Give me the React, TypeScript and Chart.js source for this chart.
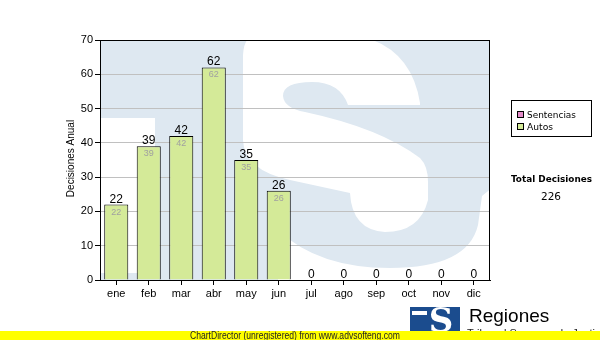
import React, { useEffect, useRef } from 'react';
import { Chart, registerables } from 'chart.js';
Chart.register(...registerables);

const months = ['ene', 'feb', 'mar', 'abr', 'may', 'jun', 'jul', 'ago', 'sep', 'oct', 'nov', 'dic'];
const sentencias = [0, 0, 0, 0, 0, 0, 0, 0, 0, 0, 0, 0];
const autos = [22, 39, 42, 62, 35, 26, 0, 0, 0, 0, 0, 0];
const yMin = 0;
const yMax = 70;
const yStep = 10;
const seriesNames = ['Sentencias', 'Autos'];
const seriesColors = ['#e48bc9', '#d4ea98'];
const yTitle = 'Decisiones Anual';
const totalTitle = 'Total Decisiones';
const footerText = 'ChartDirector (unregistered) from www.advsofteng.com';
const logoText = 'Regiones';
const logoSub = 'Tribunal Supremo de Justicia';

const SANS = '"Liberation Sans", Arial, sans-serif';
const TAHOMA = '"DejaVu Sans", Verdana, sans-serif';

function fitText(ctx: CanvasRenderingContext2D, text: string, x: number, y: number, width: number, align: 'left' | 'center') {
  const w = ctx.measureText(text).width;
  const s = width / w;
  ctx.save();
  ctx.translate(x, y);
  ctx.scale(s, 1);
  ctx.textAlign = align;
  ctx.fillText(text, 0, 0);
  ctx.restore();
}

const watermark = {
  id: 'watermark',
  beforeDraw(chart: any) {
    const { ctx, chartArea: ca } = chart;
    ctx.save();
    ctx.beginPath();
    ctx.rect(ca.left, ca.top, ca.right - ca.left, ca.bottom - ca.top);
    ctx.clip();
    ctx.fillStyle = '#dee8f1';
    ctx.fillRect(ca.left, ca.top, ca.right - ca.left, ca.bottom - ca.top);
    ctx.translate(ca.left - 100, ca.top - 40);
    ctx.fillStyle = '#ffffff';
    // left white block
    ctx.fillRect(100, 118, 55, 155);
    // upper S
    ctx.beginPath();
    ctx.moveTo(250, 38);
    ctx.lineTo(367, 38);
    ctx.quadraticCurveTo(412, 52, 420, 103);
    ctx.lineTo(420, 105);
    ctx.lineTo(348, 105);
    ctx.quadraticCurveTo(340, 82, 312, 82);
    ctx.quadraticCurveTo(283, 82, 283, 96);
    ctx.quadraticCurveTo(284, 108, 305, 112);
    ctx.quadraticCurveTo(380, 128, 420, 158);
    ctx.quadraticCurveTo(428, 166, 428, 182);
    ctx.lineTo(428, 200);
    ctx.quadraticCurveTo(420, 232, 385, 232);
    ctx.quadraticCurveTo(352, 230, 350, 193);
    ctx.lineTo(290, 180);
    ctx.quadraticCurveTo(244, 170, 243, 140);
    ctx.lineTo(243, 55);
    ctx.quadraticCurveTo(244, 40, 250, 38);
    ctx.closePath();
    ctx.fill();
    // lower white arc
    ctx.beginPath();
    ctx.moveTo(278, 230);
    ctx.quadraticCurveTo(318, 268, 390, 268);
    ctx.quadraticCurveTo(468, 268, 478, 225);
    ctx.lineTo(482, 196);
    ctx.lineTo(492, 188);
    ctx.lineTo(492, 282);
    ctx.lineTo(278, 282);
    ctx.closePath();
    ctx.fill();
    ctx.restore();
  },
};

const overlay = {
  id: 'overlay',
  afterDatasetsDraw(chart: any) {
    const { ctx } = chart;
    const meta = chart.getDatasetMeta(1);
    const yScale = chart.scales.y;
    ctx.save();
    ctx.textAlign = 'center';
    ctx.textBaseline = 'alphabetic';
    meta.data.forEach((bar: any, i: number) => {
      const total = sentencias[i] + autos[i];
      const yTop = yScale.getPixelForValue(total);
      ctx.fillStyle = '#000';
      ctx.font = `12px ${SANS}`;
      ctx.fillText(String(total), bar.x, yTop - 2);
      if (autos[i] > 0) {
        ctx.fillStyle = '#a0a0a0';
        ctx.font = `9px ${SANS}`;
        ctx.fillText(String(autos[i]), bar.x, yTop + 10);
      }
    });
    ctx.restore();
  },
  afterDraw(chart: any) {
    const { ctx, chartArea: ca } = chart;
    ctx.save();
    // plot border
    ctx.strokeStyle = '#000';
    ctx.lineWidth = 1;
    ctx.strokeRect(Math.round(ca.left) + 0.5, Math.round(ca.top) + 0.5, Math.round(ca.right - ca.left) - 1, Math.round(ca.bottom - ca.top));

    // y title
    ctx.save();
    ctx.translate(71, 158.5);
    ctx.rotate(-Math.PI / 2);
    ctx.fillStyle = '#000';
    ctx.font = `10px ${SANS}`;
    ctx.textAlign = 'center';
    ctx.textBaseline = 'middle';
    ctx.fillText(yTitle, 0, 0);
    ctx.restore();

    // legend
    ctx.strokeStyle = '#000';
    ctx.strokeRect(511.5, 100.5, 80, 36);
    ctx.font = `9.5px ${TAHOMA}`;
    ctx.textBaseline = 'alphabetic';
    const legendWidths = [49, 26];
    seriesNames.forEach((name, i) => {
      const sy = 111 + i * 11.5;
      ctx.fillStyle = seriesColors[i];
      ctx.fillRect(Math.round(517), Math.round(sy), 7, 7);
      ctx.strokeStyle = '#000';
      ctx.strokeRect(Math.round(517) + 0.5, Math.round(sy) + 0.5, 6, 6);
      ctx.fillStyle = '#000';
      fitText(ctx, name, 527, sy + 7, legendWidths[i], 'left');
    });

    // totals
    const total = autos.reduce((a, b) => a + b, 0) + sentencias.reduce((a, b) => a + b, 0);
    ctx.fillStyle = '#000';
    ctx.font = `bold 9.5px ${TAHOMA}`;
    fitText(ctx, totalTitle, 551.5, 181.5, 81, 'center');
    ctx.font = `10.5px ${TAHOMA}`;
    ctx.textAlign = 'center';
    ctx.fillText(String(total), 551, 200);

    // logo
    ctx.fillStyle = '#1b4c8e';
    ctx.fillRect(410, 307, 50, 25);
    ctx.save();
    ctx.beginPath();
    ctx.rect(410, 307, 50, 25);
    ctx.clip();
    ctx.fillStyle = '#fff';
    ctx.fillRect(412, 311, 15, 4);
    ctx.font = `bold 34px "DejaVu Serif", serif`;
    ctx.textAlign = 'center';
    ctx.fillText('S', 441, 332);
    ctx.restore();
    ctx.fillStyle = '#000';
    ctx.font = `19px ${SANS}`;
    ctx.textAlign = 'left';
    ctx.fillText(logoText, 469, 322);
    ctx.font = `11px ${SANS}`;
    ctx.fillStyle = '#222';
    ctx.fillText(logoSub, 467, 337);

    // footer band
    ctx.fillStyle = '#ffff00';
    ctx.fillRect(0, 331, 600, 9);
    ctx.fillStyle = '#222';
    ctx.font = `10px ${SANS}`;
    fitText(ctx, footerText, 190, 339, 210, 'left');
    ctx.restore();
  },
};

export default function App() {
  const ref = useRef<HTMLCanvasElement>(null);
  useEffect(() => {
    const chart = new Chart(ref.current as HTMLCanvasElement, {
      type: 'bar',
      data: {
        labels: months,
        datasets: [
          {
            label: seriesNames[0],
            data: sentencias,
            backgroundColor: seriesColors[0],
            borderWidth: 0,
            stack: 's',
            barPercentage: 0.74,
            categoryPercentage: 1,
          },
          {
            label: seriesNames[1],
            data: autos,
            backgroundColor: seriesColors[1],
            borderColor: '#000',
            borderWidth: 1,
            stack: 's',
            barPercentage: 0.74,
            categoryPercentage: 1,
          },
        ],
      },
      plugins: [watermark, overlay],
      options: {
        responsive: false,
        animation: false,
        events: [],
        layout: { padding: { left: 0, right: 110, top: 40, bottom: 0 } },
        plugins: { legend: { display: false }, tooltip: { enabled: false } },
        scales: {
          x: {
            stacked: true,
            grid: { display: true, drawOnChartArea: false, drawTicks: true, tickLength: 5, tickColor: '#000', offset: false },
            border: { display: true, color: '#000', width: 1 },
            ticks: { color: '#000', font: { family: SANS, size: 11 }, padding: 2, maxRotation: 0 },
            afterFit: (s: any) => { s.height = 60; },
          },
          y: {
            stacked: true,
            min: yMin,
            max: yMax,
            grid: { color: '#c0c0c0', lineWidth: 1, drawTicks: true, tickLength: 5, tickColor: '#000' },
            border: { display: true, color: '#000', width: 1 },
            ticks: { stepSize: yStep, color: '#000', font: { family: SANS, size: 11 }, padding: 2 },
            afterFit: (s: any) => { s.width = 100; },
          },
        },
      } as any,
    });
    return () => chart.destroy();
  }, []);
  return (
    <div style={{ position: 'fixed', left: 0, top: 0, width: 600, height: 340, background: '#fff' }}>
      <canvas ref={ref} width={600} height={340} style={{ width: 600, height: 340, display: 'block' }} />
    </div>
  );
}
